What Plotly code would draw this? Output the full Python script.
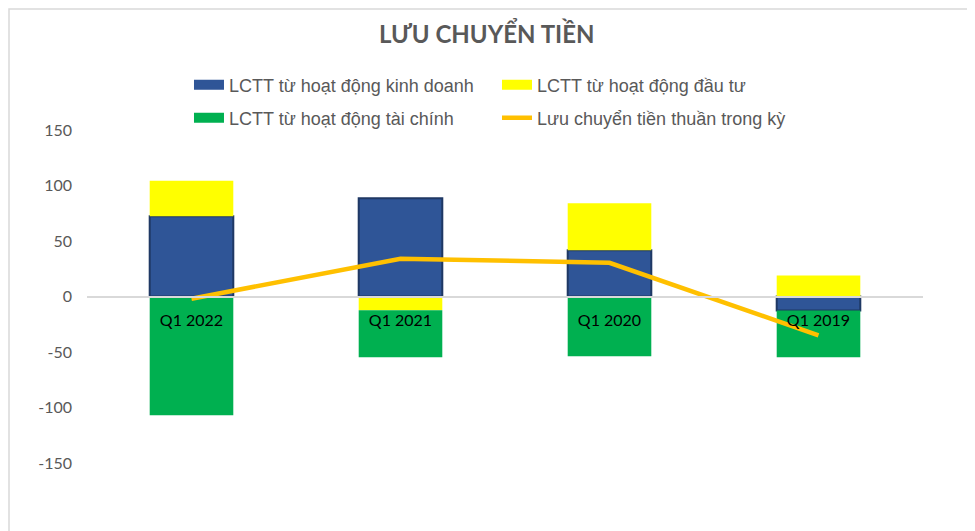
import plotly.graph_objects as go

# data
quarters = ['Q1 2022', 'Q1 2021', 'Q1 2020', 'Q1 2019']
kinh_doanh = [72.3, 88.6, 41.7, -12.6]
dau_tu = [32.0, -12.3, 42.3, 18.9]
tai_chinh = [-107.0, -42.4, -53.8, -42.1]
thuan = [-2.0, 34.0, 30.4, -35.0]
y_ticks = [-150, -100, -50, 0, 50, 100, 150]
y_tick_text = ['-150', '-100', '-50', '0', '50', '100', '150']

names = ['LCTT từ hoạt động kinh doanh', 'LCTT từ hoạt động đầu tư',
         'LCTT từ hoạt động tài chính', 'Lưu chuyển tiền thuần trong kỳ']
colors = ['#2F5597', '#FFFF00', '#00B050', '#FFC000']

fig = go.Figure()

fig.add_trace(go.Bar(
    x=quarters, y=kinh_doanh, name=names[0], showlegend=False,
    marker=dict(color=colors[0], line=dict(color='#1F3864', width=2))))

fig.add_trace(go.Bar(
    x=quarters, y=dau_tu, name=names[1], showlegend=False,
    marker=dict(color=colors[1], line=dict(width=0))))

fig.add_trace(go.Bar(
    x=quarters, y=tai_chinh, name=names[2], showlegend=False,
    marker=dict(color=colors[2], line=dict(width=0))))

fig.add_trace(go.Scatter(
    x=quarters, y=thuan, name=names[3], showlegend=False,
    mode='lines', line=dict(color=colors[3], width=4.5)))

# legend entries (wide swatches like the original)
legend_ids = ['legend', 'legend', 'legend2', 'legend2']
swatch_w = [10, 10, 10, 4.5]
for name, col, lg, w in zip(names, colors, legend_ids, swatch_w):
    fig.add_trace(go.Scatter(
        x=[None], y=[None], name=name, mode='lines',
        line=dict(color=col, width=w), legend=lg, hoverinfo='skip'))

legend_style = dict(
    orientation='h', xanchor='left', yanchor='middle',
    font=dict(family='Liberation Sans', size=18, color='#595959'),
    entrywidth=263, itemwidth=30, bgcolor='rgba(0,0,0,0)')

fig.update_layout(
    width=975, height=531,
    margin=dict(l=79, r=60, t=122, b=76),
    paper_bgcolor='white', plot_bgcolor='white',
    barmode='relative', bargap=0.6,
    title=dict(text='<b>LƯU CHUYỂN TIỀN</b>', x=0.491, xanchor='center',
               y=0.95, yanchor='middle',
               font=dict(family='Lato', size=24, color='#595959')),
    legend=dict(x=0.122, y=1.135, **legend_style),
    legend2=dict(x=0.122, y=1.036, **legend_style),
    showlegend=True,
)

fig.update_xaxes(
    anchor='free', position=0.5,
    showline=True, linecolor='#D9D9D9', linewidth=2,
    showgrid=False, ticks='', ticklabelstandoff=9,
    tickfont=dict(family='Lato', size=16, color='#000000'))

fig.update_yaxes(
    range=[-150, 150], tickvals=y_ticks, ticktext=y_tick_text,
    showgrid=False, zeroline=False, showline=False,
    ticklabelstandoff=14,
    tickfont=dict(family='Lato', size=16, color='#595959'))

# light border around the chart
fig.add_shape(type='rect', xref='paper', yref='paper',
              x0=-78 / 836, x1=1 + 50 / 836, y0=-75 / 333, y1=1 + 121 / 333,
              line=dict(color='#D9D9D9', width=1.5), layer='below')

fig.write_html("out.html")
